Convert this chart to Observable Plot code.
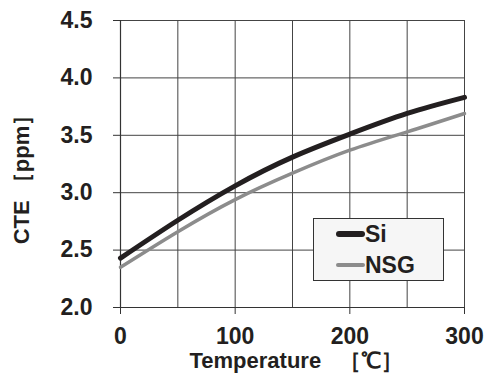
<!DOCTYPE html>
<html><head><meta charset="utf-8">
<script src="https://cdn.jsdelivr.net/npm/d3@7"></script>
<script src="https://cdn.jsdelivr.net/npm/@observablehq/plot@0.6"></script>
<style>
html,body{margin:0;padding:0;background:#fff;}
#wrap{position:relative;width:485px;height:377px;font-family:"Liberation Sans",Arial,sans-serif;}
#legend{position:absolute;left:313px;top:218px;width:131px;height:63px;border:1.5px solid #333;background:#f6f6f6;box-sizing:border-box;}
.item{position:absolute;left:22px;height:30px;display:flex;align-items:center;font-weight:bold;font-size:23px;color:#231f20;line-height:30px;}
.sw{width:29px;border-radius:3px;margin-right:0px;}
</style></head>
<body><div id="wrap"></div>
<script>
const temps = [0, 50, 100, 150, 200, 250, 300];
const si = [2.43, 2.76, 3.06, 3.31, 3.51, 3.69, 3.83];
const nsg = [2.35, 2.66, 2.94, 3.17, 3.37, 3.53, 3.69];
const seriesNames = ["Si", "NSG"];
const seriesColors = ["#231f20", "#8c8c8c"];
const seriesWidths = [5, 3.5];
const yTicks = [2.0, 2.5, 3.0, 3.5, 4.0, 4.5];
const xTicks = [0, 100, 200, 300];
const xGrid = [0, 50, 100, 150, 200, 250, 300];
const xLabel = "Temperature\u00a0\u00a0\u00a0［℃］";
const yLabel = "CTE\u00a0［ppm］";

const rows = [];
temps.forEach((t, i) => {
  rows.push({t, v: si[i], s: "Si"});
  rows.push({t, v: nsg[i], s: "NSG"});
});

const chart = Plot.plot({
  width: 485, height: 377,
  marginLeft: 120, marginRight: 21, marginTop: 20, marginBottom: 70,
  style: {fontFamily: "'Liberation Sans', Arial, sans-serif", fontWeight: "bold", fontSize: "22px", color: "#231f20", background: "#fff"},
  x: {domain: [0, 300]},
  y: {domain: [2.0, 4.5]},
  marks: [
    Plot.gridX(xGrid, {stroke: "#444", strokeOpacity: 1, strokeWidth: 1}),
    Plot.gridY(yTicks, {stroke: "#444", strokeOpacity: 1, strokeWidth: 1}),
    Plot.axisY(yTicks, {tickSize: 7, tickPadding: 21, tickFormat: d3.format(".1f"), label: null, fontSize: 23, fontWeight: "bold", stroke: "#333"}),
    Plot.axisX(xTicks, {tickSize: 7, tickPadding: 13, label: null, fontSize: 23, fontWeight: "bold", stroke: "#333"}),
    Plot.ruleX([0], {stroke: "#333", strokeWidth: 1.2}),
    Plot.ruleY([2.0], {stroke: "#333", strokeWidth: 1.2}),
    Plot.line(rows.filter(d => d.s === "NSG"), {x: "t", y: "v", stroke: seriesColors[1], strokeWidth: seriesWidths[1], curve: "natural"}),
    Plot.line(rows.filter(d => d.s === "Si"), {x: "t", y: "v", stroke: seriesColors[0], strokeWidth: seriesWidths[0], curve: "natural"}),
    Plot.text([xLabel], {frameAnchor: "bottom", textAnchor: "middle", dx: 4, dy: 60, fontSize: 22, fontWeight: "bold", fill: "#231f20"}),
    Plot.text([yLabel], {frameAnchor: "left", textAnchor: "middle", dx: -99, dy: 10, rotate: -90, fontSize: 22, fontWeight: "bold", fill: "#231f20"})
  ]
});
const wrap = document.getElementById("wrap");
wrap.appendChild(chart);
const leg = document.createElement("div");
leg.id = "legend";
seriesNames.forEach((n, i) => {
  const it = document.createElement("div");
  it.className = "item";
  it.style.top = (i === 0 ? 0 : 31) + "px";
  const sw = document.createElement("span");
  sw.className = "sw";
  sw.style.height = (seriesWidths[i] + 0.5) + "px";
  sw.style.background = seriesColors[i];
  it.appendChild(sw);
  it.appendChild(document.createTextNode(n));
  leg.appendChild(it);
});
wrap.appendChild(leg);
</script></body></html>
